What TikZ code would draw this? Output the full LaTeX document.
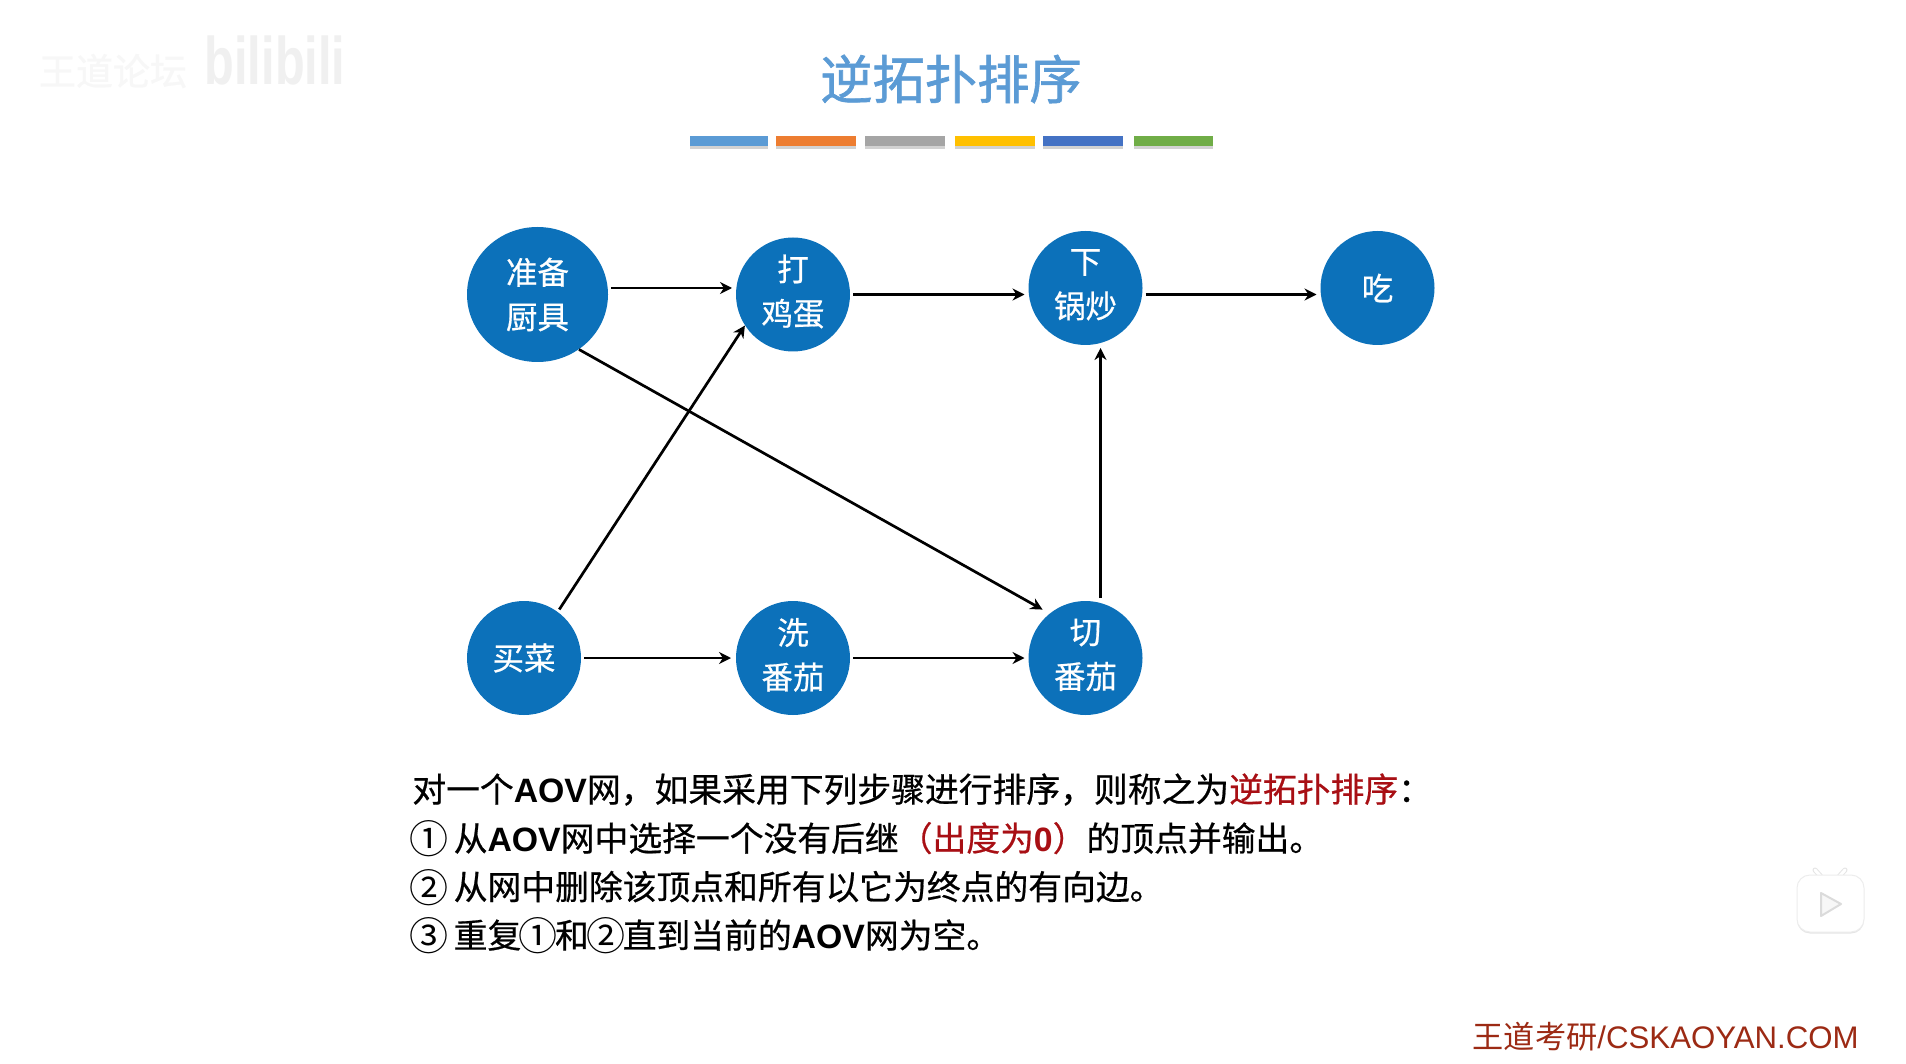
\documentclass[tikz,border=0pt]{standalone}
\usepackage{fontspec}
\setmainfont[FakeBold=0.6]{Noto Sans CJK SC}
\newfontfamily\thinfont{Noto Sans CJK SC}
\newfontfamily\heavyfont[FakeBold=1.2]{Noto Sans CJK SC}
\newfontfamily\latinfont{Liberation Sans}
\usetikzlibrary{shapes.geometric,shadows,arrows.meta}

\definecolor{nodeblue}{HTML}{0C71BA}
\definecolor{titleblue}{HTML}{5B9BD5}
\definecolor{noteRed}{HTML}{A80F14}
\definecolor{footRed}{HTML}{9C2A14}

\tikzset{
    task/.style={ellipse, fill=nodeblue, text=white, inner sep=0pt, outer sep=3pt,
        minimum width=114pt, minimum height=114pt, align=center,
        font=\fontsize{31.5}{44.5}\selectfont},
    twoline/.style={text depth=9pt},
    noteline/.style={anchor=base west, inner sep=0pt, font=\fontsize{33.8}{40}\selectfont},
    colorbar/.style={drop shadow={shadow xshift=0pt, shadow yshift=-3pt, opacity=0.35}}
}
\newcommand{\aov}{{\latinfont\bfseries AOV}}
\newcommand{\cnum}[1]{\makebox[1em]{\raisebox{-.08em}{\thinfont\fontsize{39}{40}\selectfont #1}}}

\begin{document}
\begin{tikzpicture}[>={Stealth[length=12pt,width=12pt]}, x=1pt, y=-1pt, line width=2.7pt]

    % Page
    \useasboundingbox (0,0) rectangle (1906,1064);
    \fill[white] (0,0) rectangle (1906,1064);

    % Watermark
    \node[text=black!3, font=\fontsize{37}{40}\selectfont] (forum) at (113,71) {王道论坛};
    \node[text=black!6, xscale=0.87, yscale=1.2, font=\latinfont\bfseries\fontsize{56}{60}\selectfont] (site) at (275,60) {bilibili};

    % Title
    \node[text=titleblue, font=\heavyfont\fontsize{52.3}{60}\selectfont] (title) at (951,79) {逆拓扑排序};

    % Bars
    \foreach \xa/\xb/\barcolor in {690/768/5B9BD5, 776/856/ED7D31, 865/945/A5A5A5,
                                   955/1035/FFC000, 1043/1123/4472C4, 1134/1213/70AD47} {
        \definecolor{thisbar}{HTML}{\barcolor}
        \fill[thisbar, colorbar] (\xa,136) rectangle (\xb,146);
    }

    % Tasks
    \node[task, minimum width=141pt, minimum height=135pt] (prep) at (537.5,294.5) {准备\\厨具};
    \node[task, twoline] (egg)   at (793,294.5) {打\\鸡蛋};
    \node[task, twoline] (fry)   at (1085.5,288) {下\\锅炒};
    \node[task] (eat)   at (1377.5,288) {吃};
    \node[task] (buy)   at (524,658) {买菜};
    \node[task, twoline] (wash)  at (793,658) {洗\\番茄};
    \node[task, twoline] (chop)  at (1085.5,658) {切\\番茄};

    % Edges
    \draw[->, shorten >=1pt] (prep.east |- fry.west) -- (egg.west |- fry.west);
    \draw[->, shorten >=1pt] (egg.east) -- (fry.west |- egg.east);
    \draw[->, shorten >=1pt] (fry.east |- egg.east) -- (eat.west |- egg.east);
    \draw[->, shorten >=2pt] (buy) -- (wash);
    \draw[->, shorten >=1pt] (wash) -- (chop);
    \draw[->, shorten >=-3pt] (buy.54) -- (egg.214);
    \draw[->, shorten <=-3pt, shorten >=5pt] (prep.-52) -- (chop.130);
    \draw[->] ([xshift=15pt]chop.north) -- ([xshift=15pt]fry.south);

    % Notes
    \node[noteline] (line1) at (411,802) {对一个\aov 网，如果采用下列步骤进行排序，则称之为\textcolor{noteRed}{逆拓扑排序}：};
    \node[noteline] (line2) at (411,851) {\cnum{①} 从\aov 网中选择一个没有后继\textcolor{noteRed}{（出度为{\latinfont\bfseries 0}）}的顶点并输出。};
    \node[noteline] (line3) at (411,899.5) {\cnum{②} 从网中删除该顶点和所有以它为终点的有向边。};
    \node[noteline] (line4) at (411,948) {\cnum{③} 重复\cnum{①}和\cnum{②}直到当前的\aov 网为空。};

    % Footer
    \node[anchor=base east, inner sep=0pt, text=footRed, font=\fontsize{31.2}{36}\selectfont] (foot) at (1860,1048)
        {{\thinfont 王道考研}{\latinfont /CSKAOYAN.COM}};

    % Player badge
    \draw[black!10, line width=5pt, line cap=round] (1824,880) -- (1815,870) (1836,880) -- (1845,870);
    \draw[white, line width=3pt, line cap=round] (1824,880) -- (1815,870) (1836,880) -- (1845,870);
    \filldraw[fill=white, draw=black!7, line width=1pt, rounded corners=13pt,
        drop shadow={shadow xshift=0pt, shadow yshift=-1.5pt, opacity=0.2}]
        (1797,875) rectangle (1864,932);
    \draw[black!14, line width=2pt, line join=round, fill=black!3] (1821,893) -- (1841,904) -- (1821,916) -- cycle;

\end{tikzpicture}
\end{document}
